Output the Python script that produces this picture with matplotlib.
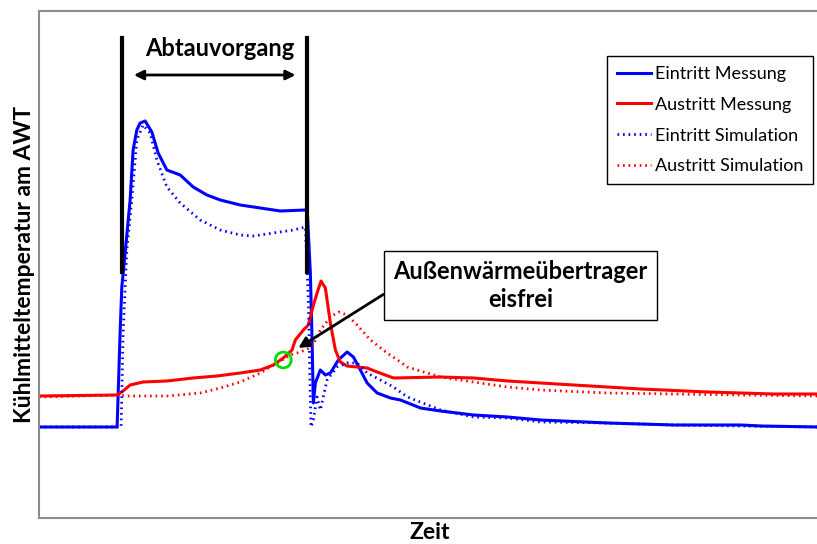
import numpy as np
import matplotlib.pyplot as plt

plt.rcParams['font.family'] = ['Lato', 'DejaVu Sans']

# Zeitachse / Temperatur in beliebigen Einheiten
t_ein_mess = [0, 78, 81, 82.7, 86, 91, 94, 97.7, 101, 106, 112.7, 119, 127.7, 141, 154, 167.7,
              181, 201, 221, 241, 266, 268, 271, 272.7, 274, 276, 281, 286, 291, 299, 307.7,
              314, 321, 327.7, 337.7, 351, 361, 381, 401, 434, 468, 501, 568, 634, 701, 721, 778]
T_ein_mess = [91, 91, 185, 231, 265, 318, 368, 388, 395, 397, 386, 365, 348, 343, 331, 323,
              318, 313, 310, 307, 308, 306, 245, 178, 115, 135, 148, 143, 145, 158, 166,
              161, 148, 135, 125, 120, 118, 110, 107, 103, 101, 98, 95, 93, 93, 92, 91]

t_ein_sim = [0, 82, 84, 87.7, 92.7, 97.7, 104, 111, 117.7, 127.7, 141, 161, 181, 201, 214,
             234, 254, 266, 269, 271, 271.7, 274, 277.7, 281, 287.7, 297.7, 307.7, 317.7,
             327.7, 341, 354, 368, 401, 434, 468, 501, 568, 634, 701, 778]
T_ein_sim = [91, 91, 185, 268, 318, 378, 393, 385, 358, 331, 315, 298, 288, 283, 282,
             285, 288, 291, 218, 118, 91, 98, 121, 108, 138, 151, 155, 155,
             145, 138, 131, 121, 108, 101, 100, 96, 95, 93, 92, 91]

t_aus_mess = [0, 77.7, 82.7, 91, 104, 127.7, 154, 177.7, 201, 221, 234, 244, 252.7, 256, 264,
              269, 272.7, 277.7, 281.7, 286, 291, 296, 301, 307.7, 317.7, 327.7, 337.7, 354,
              401, 434, 468, 534, 601, 668, 734, 778]
T_aus_mess = [122, 123, 126, 133, 136, 137, 140, 142, 145, 148, 153, 160, 168, 178, 188,
              193, 208, 225, 237, 230, 195, 168, 156, 152, 151, 150, 146, 140,
              141, 140, 137, 133, 129, 126, 124, 124]

t_aus_sim = [0, 81, 87.7, 127.7, 161, 181, 201, 221, 237.7, 251, 261, 272.7, 281, 291, 299,
             307.7, 317.7, 331, 347.7, 361, 367.7, 401, 434, 468, 501, 568, 634, 701, 778]
T_aus_sim = [121, 123, 122, 122, 125, 130, 136, 145, 155, 163, 166, 171, 188, 201, 206,
             203, 193, 178, 165, 156, 151, 141, 136, 131, 128, 125, 124, 123, 122]

abtau_start, abtau_ende = 83, 268
eisfrei_t, eisfrei_T = 244, 158

fig = plt.figure(figsize=(8.17, 5.44), dpi=100)
ax = fig.add_axes([39/817, 26/544, 782/817, 507/544])

dot = (0, (0.6, 1.4))
ax.plot(t_ein_mess, T_ein_mess, color='#0000ff', lw=2.2, label='Eintritt Messung')
ax.plot(t_aus_mess, T_aus_mess, color='#ff0000', lw=2.2, label='Austritt Messung')
ax.plot(t_ein_sim, T_ein_sim, color='#0000ff', lw=2.0, ls=dot, label='Eintritt Simulation')
ax.plot(t_aus_sim, T_aus_sim, color='#ff0000', lw=2.0, ls=dot, label='Austritt Simulation')

# Abtauvorgang
for t in (abtau_start, abtau_ende):
    ax.plot([t, t], [246, 480], color='black', lw=3)
ax.annotate('', xy=(abtau_start + 9, 443), xytext=(abtau_ende - 9, 443),
            arrowprops=dict(arrowstyle='<|-|>', color='black', lw=2, mutation_scale=14))
ax.text(181, 470, 'Abtauvorgang', ha='center', va='center', fontsize=17, fontweight='bold')

ax.scatter([eisfrei_t], [eisfrei_T], s=130, facecolors='none', edgecolors='#00dd00',
           linewidths=2, zorder=5)
ax.annotate('Außenwärmeübertrager\neisfrei', xy=(259, 170), xytext=(481, 232.5),
            ha='center', va='center', fontsize=17, fontweight='bold', linespacing=1.25,
            bbox=dict(boxstyle='square,pad=0.4', fc='white', ec='black', lw=1),
            arrowprops=dict(arrowstyle='-|>', color='black', lw=2, mutation_scale=16,
                            shrinkA=0, shrinkB=0, relpos=(0, 0.45)))

leg = ax.legend(loc='upper right', bbox_to_anchor=(773/781, 462/507), fontsize=13,
                fancybox=False, edgecolor='black', framealpha=1, handlelength=1.9,
                labelspacing=0.82, borderpad=0.55, handletextpad=0.2, borderaxespad=0)
leg.get_frame().set_linewidth(1)

ax.set_xlim(0, 781)
ax.set_ylim(0, 507)
ax.set_xticks([])
ax.set_yticks([])
for s in ax.spines.values():
    s.set_color('#8c8c8c')
    s.set_linewidth(1.5)

ax.set_xlabel('Zeit', fontsize=16.5, fontweight='bold', labelpad=3)
ax.set_ylabel('Kühlmitteltemperatur am AWT', fontsize=16.5, fontweight='bold', labelpad=3)

fig.savefig('out.png', dpi=100)
